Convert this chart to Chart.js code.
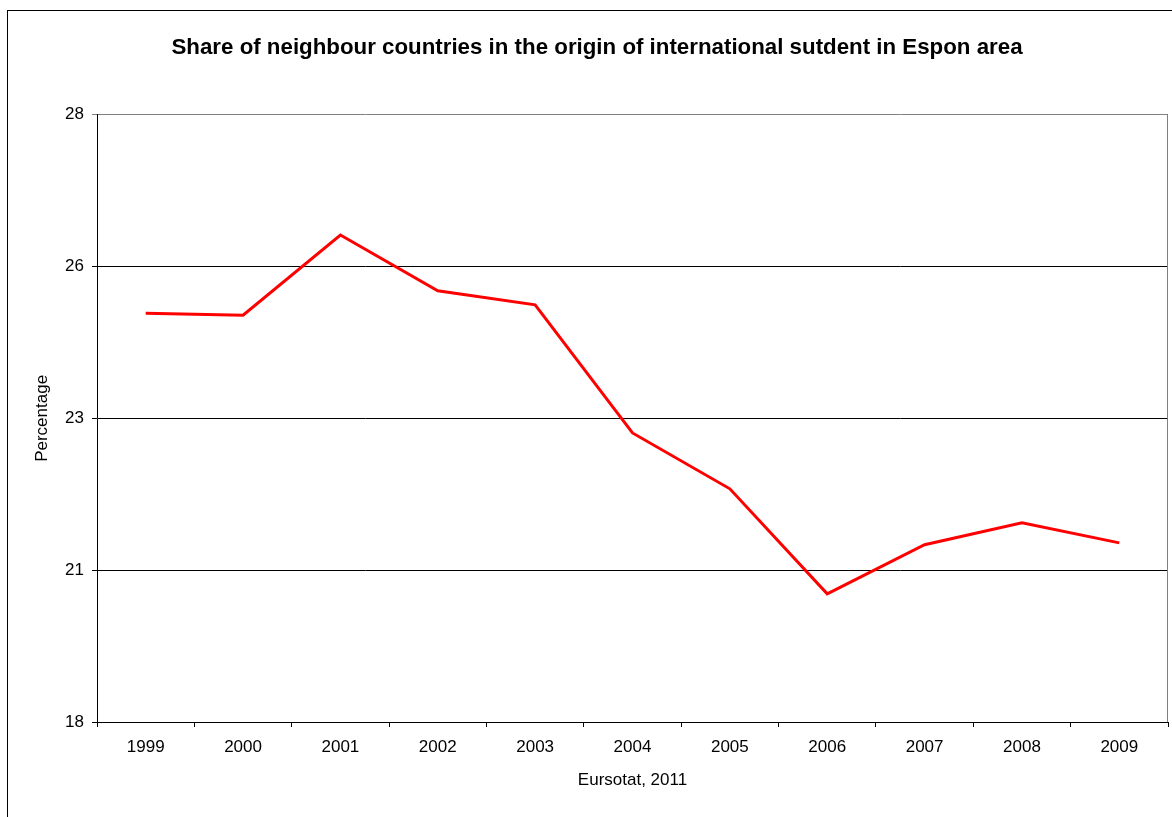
<!DOCTYPE html>
<html>
<head>
<meta charset="utf-8">
<script src="https://cdn.jsdelivr.net/npm/chart.js@4"></script>
<style>
  html, body { margin: 0; padding: 0; background: #fff; }
  #wrap { width: 1172px; height: 817px; }
</style>
</head>
<body>
<div id="wrap"><canvas id="chart" width="1172" height="817"></canvas></div>
<script>
const years = ["1999", "2000", "2001", "2002", "2003", "2004", "2005", "2006", "2007", "2008", "2009"];
const shareNeighbours = [24.73, 24.70, 26.02, 25.10, 24.87, 22.76, 21.84, 20.11, 20.92, 21.28, 20.95];

const FONT = "'Liberation Sans', Arial, sans-serif";

// outer frame + grey plot border on the right
const framePlugin = {
  id: "frame",
  beforeDraw(chart) {
    const ctx = chart.ctx;
    ctx.save();
    ctx.fillStyle = "#fff";
    ctx.fillRect(0, 0, chart.width, chart.height);
    ctx.strokeStyle = "#000";
    ctx.lineWidth = 1;
    ctx.strokeRect(7.5, 10.5, 1300, 900);
    ctx.restore();
  },
  beforeDatasetsDraw(chart) {
    const { ctx, chartArea: a } = chart;
    ctx.save();
    ctx.strokeStyle = "#808080";
    ctx.lineWidth = 1;
    ctx.beginPath();
    ctx.moveTo(Math.round(a.right) - 0.5, a.top);
    ctx.lineTo(Math.round(a.right) - 0.5, a.bottom);
    ctx.stroke();
    ctx.restore();
  },
};

new Chart(document.getElementById("chart"), {
  type: "line",
  data: {
    labels: years,
    datasets: [
      {
        label: "Share",
        data: shareNeighbours,
        borderColor: "#ff0000",
        borderWidth: 3,
        pointRadius: 0,
        tension: 0,
        fill: false,
      },
    ],
  },
  options: {
    responsive: false,
    animation: false,
    layout: { padding: { top: 0, left: 26, right: 4, bottom: 0 } },
    plugins: {
      legend: { display: false },
      tooltip: { enabled: false },
      title: {
        display: true,
        text: "Share of neighbour countries in the origin of international sutdent in Espon area",
        color: "#000",
        font: { family: FONT, size: 22.3, weight: "bold" },
        padding: { top: 34, bottom: 54 },
      },
    },
    scales: {
      x: {
        offset: true,
        grid: {
          offset: true,
          drawOnChartArea: false,
          drawTicks: true,
          tickLength: 5,
          color: "#000",
        },
        border: { color: "#000", width: 1 },
        ticks: {
          color: "#000",
          padding: 10,
          maxRotation: 0,
          font: { family: FONT, size: 17 },
        },
        title: {
          display: true,
          text: "Eursotat, 2011",
          color: "#000",
          font: { family: FONT, size: 17 },
          padding: { top: 0, bottom: 26 },
        },
        afterFit(scale) {
          scale.height = 95;
        },
      },
      y: {
        min: 18,
        max: 28,
        grid: {
          drawTicks: true,
          tickLength: 5,
          color: (c) => (c.tick && c.tick.value === 28 ? "#808080" : "#000"),
        },
        border: { color: "#000", width: 1 },
        ticks: {
          stepSize: 2.5,
          color: "#000",
          padding: 8,
          font: { family: FONT, size: 17 },
          callback: (value) => Math.round(value),
        },
        title: {
          display: true,
          text: "Percentage",
          color: "#000",
          font: { family: FONT, size: 17 },
          padding: { top: 6, bottom: 0 },
        },
        afterFit(scale) {
          scale.width = 71;
        },
      },
    },
  },
  plugins: [framePlugin],
});
</script>
</body>
</html>
